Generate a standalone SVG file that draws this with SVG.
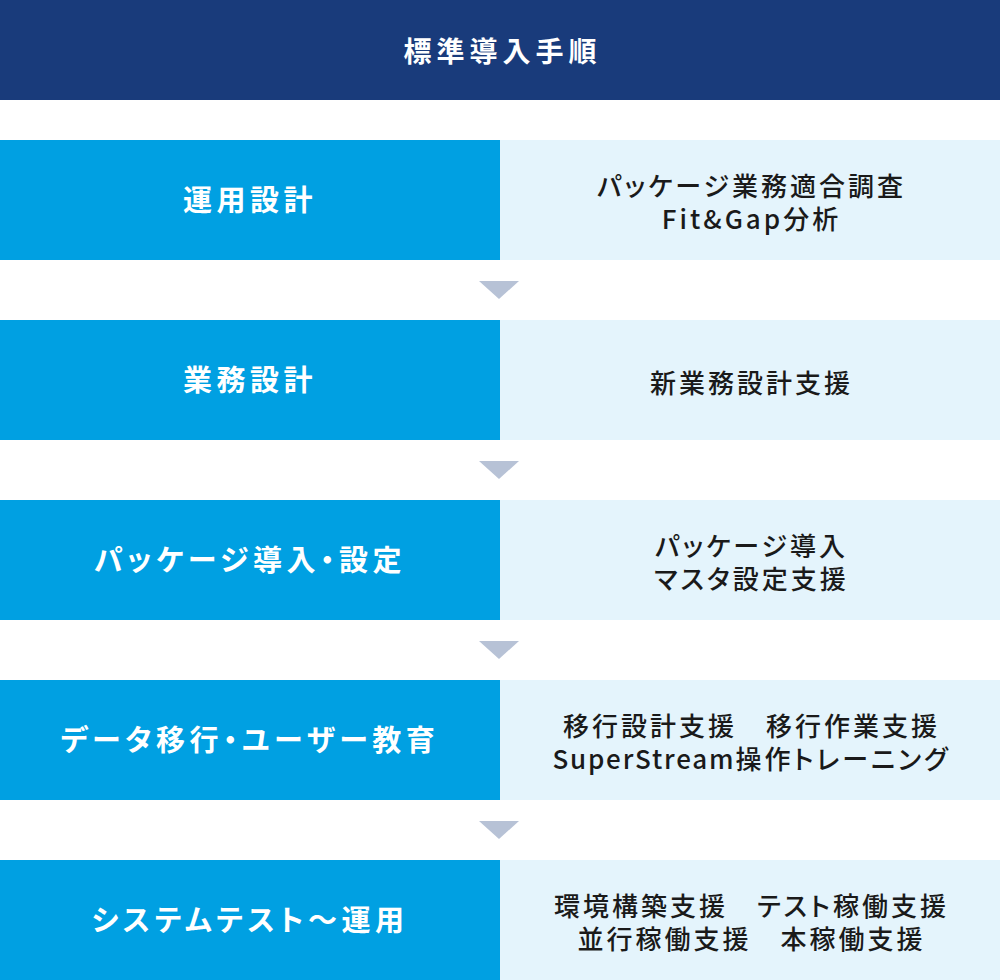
<svg xmlns="http://www.w3.org/2000/svg" width="1000" height="980" viewBox="0 0 1000 980">
<style>
.hd{fill:#193b7b}
.lb{fill:#00a0e2}
.rb{fill:#e4f4fc}
.arr{fill:#b7c2d6}
text{font-family:"Noto Sans CJK JP","Noto Sans",sans-serif;font-feature-settings:"palt";dominant-baseline:central;text-anchor:middle}
.ht{fill:#fff;font-size:28px;font-weight:700;letter-spacing:5px}
.lt{fill:#fff;font-size:29px;font-weight:700;letter-spacing:4.5px}
.rt{fill:#1a1a1a;font-size:26px;font-weight:500;letter-spacing:3px}
.la{letter-spacing:1.8px}
</style>
<rect width="1000" height="980" fill="#fff"/>
<g id="header">
<rect class="hd" x="0" y="0" width="1000" height="100"/>
<text class="ht" x="502.5" y="50">標準導入手順</text>
</g>
<g id="step1">
<rect class="lb" x="0" y="140" width="500" height="120"/>
<rect class="rb" x="500" y="140" width="500" height="120"/>
<text class="lt" x="250" y="198">運用設計</text>
<text class="rt"><tspan x="751.5" y="184">パッケージ業務適合調査</tspan><tspan x="751.5" y="217">Fit&amp;Gap分析</tspan></text>
</g>
<g id="step2">
<rect class="lb" x="0" y="320" width="500" height="120"/>
<rect class="rb" x="500" y="320" width="500" height="120"/>
<text class="lt" x="250" y="378">業務設計</text>
<text class="rt" x="751.5" y="381">新業務設計支援</text>
</g>
<g id="step3">
<rect class="lb" x="0" y="500" width="500" height="120"/>
<rect class="rb" x="500" y="500" width="500" height="120"/>
<text class="lt" x="250" y="558">パッケージ導入・設定</text>
<text class="rt"><tspan x="751.5" y="544">パッケージ導入</tspan><tspan x="751.5" y="577">マスタ設定支援</tspan></text>
</g>
<g id="step4">
<rect class="lb" x="0" y="680" width="500" height="120"/>
<rect class="rb" x="500" y="680" width="500" height="120"/>
<text class="lt" x="250" y="738">データ移行・ユーザー教育</text>
<text class="rt"><tspan x="751.5" y="724">移行設計支援　移行作業支援</tspan><tspan x="751.5" y="757"><tspan class="la">SuperStream</tspan>操作トレーニング</tspan></text>
</g>
<g id="step5">
<rect class="lb" x="0" y="860" width="500" height="120"/>
<rect class="rb" x="500" y="860" width="500" height="120"/>
<text class="lt" x="250" y="918">システムテスト～運用</text>
<text class="rt"><tspan x="751.5" y="904">環境構築支援　テスト稼働支援</tspan><tspan x="751.5" y="937">並行稼働支援　本稼働支援</tspan></text>
</g>
<g id="connectors">
<polygon class="arr" points="479,281 519,281 499,299"/>
<polygon class="arr" points="479,461 519,461 499,479"/>
<polygon class="arr" points="479,641 519,641 499,659"/>
<polygon class="arr" points="479,821 519,821 499,839"/>
</g>
</svg>
